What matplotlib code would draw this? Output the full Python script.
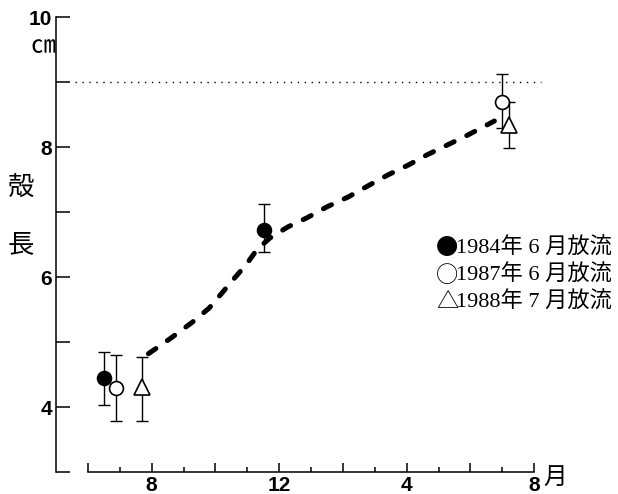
import numpy as np
import matplotlib.pyplot as plt

# x = months counted from August of the release year (0 = Aug, 4 = Dec, 8 = Apr, 12 = Aug)
x_ticks_major = [-2, 0, 2, 4, 6, 8, 10, 12]
x_ticks_minor = [-1, 1, 3, 5, 7, 9, 11]
x_labels = ['', '8', '', '12', '', '4', '', '8']
y_ticks = [3, 4, 5, 6, 7, 8, 9, 10]
y_labels = ['', '4', '', '6', '', '8', '', '10']

# mean shell length with error range (low / high)
x_1984 = np.array([-1.51, 3.51])
y_1984 = np.array([4.45, 6.73])
lo_1984 = np.array([4.03, 6.39])
hi_1984 = np.array([4.84, 7.12])

x_1987 = np.array([-1.11, 10.98])
y_1987 = np.array([4.30, 8.70])
lo_1987 = np.array([3.79, 8.30])
hi_1987 = np.array([4.80, 9.12])

x_1988 = np.array([-0.30, 11.22])
y_1988 = np.array([4.31, 8.34])
lo_1988 = np.array([3.79, 7.98])
hi_1988 = np.array([4.77, 8.70])

# growth curve (dashed)
curve_x = [-0.10, 0.66, 1.29, 1.80, 2.20, 2.54, 2.98, 3.30, 3.71, 4.27, 4.87,
           5.50, 6.16, 6.85, 7.41, 8.04, 8.64, 9.27, 9.90, 10.52, 10.75]
curve_y = [4.82, 5.08, 5.31, 5.52, 5.75, 5.95, 6.20, 6.42, 6.60, 6.77, 6.91,
           7.08, 7.23, 7.42, 7.57, 7.72, 7.88, 8.03, 8.18, 8.34, 8.40]

# reference level
ref_y = 9.0
ref_x = [-2.4, 12.2]

legend_marks = ['●', '○', '△']
legend_texts = ['1984年 6 月放流', '1987年 6 月放流', '1988年 7 月放流']

plt.rcParams['font.family'] = 'Liberation Sans'
plt.rcParams['font.weight'] = 'bold'

fig = plt.figure(figsize=(6.18, 4.94), dpi=100)
ax = fig.add_axes([56 / 618, 22 / 494, 542 / 618, 455 / 494])
ax.set_xlim(-3, 14)
ax.set_ylim(3, 10)

for side in ['top', 'right']:
    ax.spines[side].set_visible(False)
ax.spines['left'].set_bounds(3, 10)
ax.spines['bottom'].set_bounds(-2, 12)
ax.spines['left'].set_linewidth(1.1)
ax.spines['bottom'].set_linewidth(1.1)

ax.set_yticks(y_ticks)
ax.set_yticklabels(y_labels, fontsize=15, fontweight='bold')
ax.set_xticks(x_ticks_major)
ax.set_xticklabels(x_labels, fontsize=15, fontweight='bold')
ax.set_xticks(x_ticks_minor, minor=True)
ax.tick_params(axis='y', direction='in', length=10, width=1.1, pad=3)
ax.tick_params(axis='x', which='major', direction='in', length=6.5, width=1.1, pad=3)
ax.tick_params(axis='x', which='minor', direction='in', length=3.5, width=1.1)

# dotted reference line
ax.plot(ref_x, [ref_y, ref_y], color='black', lw=1.0, dashes=(1, 4), clip_on=False)

# dashed growth curve
ax.plot(curve_x, curve_y, color='black', lw=3.6, dashes=(1.8, 2.8),
        dash_capstyle='round', zorder=2)

# error bars and markers
groups = [
    (x_1984, y_1984, lo_1984, hi_1984, 'o', 'black', 10),
    (x_1987, y_1987, lo_1987, hi_1987, 'o', 'white', 10),
    (x_1988, y_1988, lo_1988, hi_1988, '^', 'white', 11),
]
for gx, gy, glo, ghi, mk, fc, ms in groups:
    ax.errorbar(gx, gy, yerr=[gy - glo, ghi - gy], fmt='none', ecolor='black',
                elinewidth=1.0, capsize=4.5, capthick=1.0, zorder=3)
    ax.plot(gx, gy, linestyle='none', marker=mk, markersize=ms,
            markerfacecolor=fc, markeredgecolor='black', markeredgewidth=1.2, zorder=4)

cjk = ['Noto Sans CJK JP', 'DejaVu Sans']
fig.text(43 / 618, 1 - 46 / 494, '㎝', family=cjk, fontsize=18, fontweight='normal',
         ha='center', va='center')
fig.text(21 / 618, 1 - 188 / 494, '殻', family=cjk, fontsize=19, fontweight='normal',
         ha='center', va='center')
fig.text(21 / 618, 1 - 245 / 494, '長', family=cjk, fontsize=19, fontweight='normal',
         ha='center', va='center')
fig.text(555 / 618, 1 - 477 / 494, '月', family=cjk, fontsize=17, fontweight='normal',
         ha='center', va='center')

serif = ['Liberation Serif', 'Noto Sans CJK JP', 'DejaVu Sans']
for i, (mk, line) in enumerate(zip(legend_marks, legend_texts)):
    yy = 1 - (248 + 27 * i) / 494
    fig.text(447 / 618, yy, mk, family=cjk, fontsize=16, fontweight='normal',
             ha='center', va='center')
    fig.text(456 / 618, yy, line, family=serif, fontsize=16, fontweight='normal',
             ha='left', va='center')

fig.savefig('out.png', dpi=100)
